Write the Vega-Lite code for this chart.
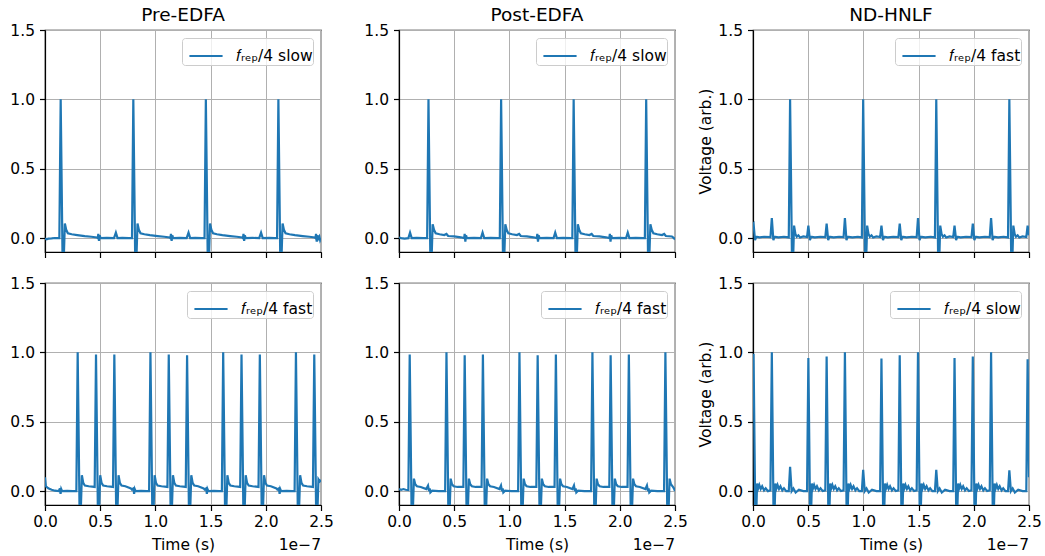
{
"$schema": "https://vega.github.io/schema/vega-lite/v6.json",
"padding": {"left": 9, "top": 4, "right": 5, "bottom": 3},
"config": {
  "font": "DejaVu Sans",
  "view": {"stroke": "black", "strokeWidth": 1.2},
  "axis": {"grid": true, "gridColor": "#b0b0b0", "gridWidth": 1, "domainColor": "black", "domainWidth": 1.2, "tickColor": "black", "tickWidth": 1.2, "tickSize": 5.5, "labelFontSize": 15.5, "labelColor": "black", "titleFontSize": 15.5, "titleFontWeight": "normal", "titleColor": "black", "labelFlush": false, "labelOverlap": false},
  "axisX": {"labelPadding": 4, "titlePadding": 7},
  "axisY": {"labelPadding": 5, "titlePadding": 4},
  "title": {"fontSize": 18.5, "fontWeight": "normal", "offset": -1, "color": "black", "anchor": "middle"},
  "legend": {"orient": "top-right", "offset": 8, "padding": 0, "fillColor": "rgba(255,255,255,0.8)", "strokeColor": "#cccccc", "cornerRadius": 3, "labelFontSize": 15.5, "labelColor": "black", "symbolType": "stroke", "symbolSize": 1100, "symbolStrokeWidth": 2.2, "symbolOffset": 6, "labelOffset": 12}
},
"datasets": {
"preSlow": [
{"t":0,"v":-0.003},{"t":0.015,"v":-0.008},{"t":0.03,"v":-0.004},{"t":0.06,"v":-0.002},{"t":0.09,"v":0.001},{"t":0.13,"v":0},
{"t":0.142,"v":1},{"t":0.162,"v":-0.35},{"t":0.18,"v":0.105},{"t":0.192,"v":0.06},{"t":0.207,"v":0.035},{"t":0.242,"v":0.028},{"t":0.292,"v":0.022},{"t":0.36,"v":0.015},{"t":0.42,"v":0.01},{"t":0.47,"v":0.005},
{"t":0.478,"v":0},{"t":0.483,"v":0.03},{"t":0.489,"v":-0.02},{"t":0.495,"v":0.02},{"t":0.503,"v":0},{"t":0.56,"v":0.002},{"t":0.625,"v":0},{"t":0.642,"v":0.04},{"t":0.657,"v":0},{"t":0.7,"v":0.002},{"t":0.76,"v":0},{"t":0.788,"v":0},
{"t":0.8,"v":1},{"t":0.82,"v":-0.35},{"t":0.838,"v":0.105},{"t":0.85,"v":0.06},{"t":0.865,"v":0.035},{"t":0.9,"v":0.028},{"t":0.95,"v":0.022},{"t":1.02,"v":0.015},{"t":1.08,"v":0.01},{"t":1.13,"v":0.005},
{"t":1.136,"v":0},{"t":1.141,"v":0.03},{"t":1.147,"v":-0.02},{"t":1.153,"v":0.02},{"t":1.161,"v":0},{"t":1.22,"v":0.002},{"t":1.283,"v":0},{"t":1.3,"v":0.04},{"t":1.315,"v":0},{"t":1.36,"v":0.002},{"t":1.42,"v":0},{"t":1.445,"v":0},
{"t":1.457,"v":1},{"t":1.477,"v":-0.35},{"t":1.495,"v":0.105},{"t":1.507,"v":0.06},{"t":1.522,"v":0.035},{"t":1.557,"v":0.028},{"t":1.607,"v":0.022},{"t":1.677,"v":0.015},{"t":1.737,"v":0.01},{"t":1.787,"v":0.005},
{"t":1.793,"v":0},{"t":1.798,"v":0.03},{"t":1.804,"v":-0.02},{"t":1.81,"v":0.02},{"t":1.818,"v":0},{"t":1.88,"v":0.002},{"t":1.94,"v":0},{"t":1.957,"v":0.04},{"t":1.972,"v":0},{"t":2.03,"v":0.002},{"t":2.08,"v":0},{"t":2.102,"v":0},
{"t":2.114,"v":1},{"t":2.134,"v":-0.35},{"t":2.152,"v":0.105},{"t":2.164,"v":0.06},{"t":2.179,"v":0.035},{"t":2.214,"v":0.028},{"t":2.264,"v":0.022},{"t":2.334,"v":0.015},{"t":2.394,"v":0.01},{"t":2.444,"v":0.005},
{"t":2.45,"v":0},{"t":2.455,"v":0.03},{"t":2.461,"v":-0.025},{"t":2.467,"v":0.02},{"t":2.475,"v":-0.005},{"t":2.485,"v":0.01},{"t":2.492,"v":-0.015},{"t":2.5,"v":0}
],
"postSlow": [
{"t":0,"v":0.005},{"t":0.02,"v":0},{"t":0.05,"v":-0.003},{"t":0.085,"v":0},{"t":0.1,"v":0.04},{"t":0.115,"v":0},{"t":0.16,"v":0.002},{"t":0.22,"v":0},{"t":0.255,"v":0},
{"t":0.267,"v":1},{"t":0.287,"v":-0.35},{"t":0.305,"v":0.1},{"t":0.317,"v":0.06},{"t":0.332,"v":0.035},{"t":0.367,"v":0.028},{"t":0.41,"v":0.022},{"t":0.43,"v":0.03},{"t":0.445,"v":0.015},{"t":0.5,"v":0.012},{"t":0.56,"v":0.006},{"t":0.59,"v":0},{"t":0.595,"v":0.03},{"t":0.601,"v":-0.025},{"t":0.607,"v":0.02},{"t":0.615,"v":0},{"t":0.68,"v":0.002},{"t":0.742,"v":0},{"t":0.757,"v":0.04},{"t":0.772,"v":0},{"t":0.83,"v":0.002},{"t":0.9,"v":0},{"t":0.913,"v":0},
{"t":0.925,"v":1},{"t":0.945,"v":-0.35},{"t":0.963,"v":0.1},{"t":0.975,"v":0.06},{"t":0.99,"v":0.035},{"t":1.025,"v":0.028},{"t":1.068,"v":0.022},{"t":1.088,"v":0.03},{"t":1.103,"v":0.015},{"t":1.158,"v":0.012},{"t":1.218,"v":0.006},{"t":1.248,"v":0},{"t":1.253,"v":0.03},{"t":1.259,"v":-0.025},{"t":1.265,"v":0.02},{"t":1.273,"v":0},{"t":1.338,"v":0.002},{"t":1.4,"v":0},{"t":1.415,"v":0.04},{"t":1.43,"v":0},{"t":1.488,"v":0.002},{"t":1.558,"v":0},{"t":1.57,"v":0},
{"t":1.582,"v":1},{"t":1.602,"v":-0.35},{"t":1.62,"v":0.1},{"t":1.632,"v":0.06},{"t":1.647,"v":0.035},{"t":1.682,"v":0.028},{"t":1.725,"v":0.022},{"t":1.745,"v":0.03},{"t":1.76,"v":0.015},{"t":1.815,"v":0.012},{"t":1.875,"v":0.006},{"t":1.905,"v":0},{"t":1.91,"v":0.03},{"t":1.916,"v":-0.025},{"t":1.922,"v":0.02},{"t":1.93,"v":0},{"t":1.995,"v":0.002},{"t":2.057,"v":0},{"t":2.072,"v":0.04},{"t":2.087,"v":0},{"t":2.145,"v":0.002},{"t":2.215,"v":0},{"t":2.227,"v":0},
{"t":2.239,"v":1},{"t":2.259,"v":-0.35},{"t":2.277,"v":0.1},{"t":2.289,"v":0.06},{"t":2.304,"v":0.035},{"t":2.339,"v":0.028},{"t":2.382,"v":0.022},{"t":2.402,"v":0.03},{"t":2.417,"v":0.015},{"t":2.472,"v":0.012},{"t":2.49,"v":0},{"t":2.5,"v":-0.01}
],
"ndFast": [
{"t":0,"v":0.1},{"t":0.005,"v":0.105},{"t":0.018,"v":-0.015},{"t":0.03,"v":0.01},{"t":0.06,"v":0.005},{"t":0.1,"v":0.01},{"t":0.1585,"v":0.008},
{"t":0.1705,"v":0.145},{"t":0.1845,"v":-0.015},{"t":0.1955,"v":0.01},{"t":0.23,"v":0.006},{"t":0.28,"v":0.01},{"t":0.324,"v":0.005},
{"t":0.336,"v":1},{"t":0.356,"v":-0.35},{"t":0.372,"v":0.09},{"t":0.384,"v":0.03},{"t":0.396,"v":0.01},{"t":0.411,"v":0.02},{"t":0.426,"v":0.005},{"t":0.456,"v":0.012},{"t":0.4895,"v":0.008},
{"t":0.5015,"v":0.09},{"t":0.5155,"v":-0.015},{"t":0.5265,"v":0.01},{"t":0.56,"v":0.005},{"t":0.61,"v":0.01},{"t":0.655,"v":0.008},
{"t":0.667,"v":0.105},{"t":0.681,"v":-0.015},{"t":0.692,"v":0.01},{"t":0.73,"v":0.005},{"t":0.78,"v":0.01},{"t":0.8205,"v":0.008},
{"t":0.8325,"v":0.145},{"t":0.8465,"v":-0.015},{"t":0.8575,"v":0.01},{"t":0.9,"v":0.006},{"t":0.95,"v":0.01},{"t":0.986,"v":0.005},
{"t":0.998,"v":1},{"t":1.018,"v":-0.35},{"t":1.034,"v":0.09},{"t":1.046,"v":0.03},{"t":1.058,"v":0.01},{"t":1.073,"v":0.02},{"t":1.088,"v":0.005},{"t":1.118,"v":0.012},{"t":1.1515,"v":0.008},
{"t":1.1635,"v":0.09},{"t":1.1775,"v":-0.015},{"t":1.1885,"v":0.01},{"t":1.22,"v":0.005},{"t":1.27,"v":0.01},{"t":1.317,"v":0.008},
{"t":1.329,"v":0.105},{"t":1.343,"v":-0.015},{"t":1.354,"v":0.01},{"t":1.39,"v":0.005},{"t":1.44,"v":0.01},{"t":1.4825,"v":0.008},
{"t":1.4945,"v":0.145},{"t":1.5085,"v":-0.015},{"t":1.5195,"v":0.01},{"t":1.56,"v":0.006},{"t":1.61,"v":0.01},{"t":1.648,"v":0.005},
{"t":1.66,"v":1},{"t":1.68,"v":-0.35},{"t":1.696,"v":0.09},{"t":1.708,"v":0.03},{"t":1.72,"v":0.01},{"t":1.735,"v":0.02},{"t":1.75,"v":0.005},{"t":1.78,"v":0.012},{"t":1.8135,"v":0.008},
{"t":1.8255,"v":0.09},{"t":1.8395,"v":-0.015},{"t":1.8505,"v":0.01},{"t":1.88,"v":0.005},{"t":1.93,"v":0.01},{"t":1.979,"v":0.008},
{"t":1.991,"v":0.105},{"t":2.005,"v":-0.015},{"t":2.016,"v":0.01},{"t":2.05,"v":0.005},{"t":2.1,"v":0.01},{"t":2.1445,"v":0.008},
{"t":2.1565,"v":0.145},{"t":2.1705,"v":-0.015},{"t":2.1815,"v":0.01},{"t":2.22,"v":0.006},{"t":2.27,"v":0.01},{"t":2.31,"v":0.005},
{"t":2.322,"v":1},{"t":2.342,"v":-0.35},{"t":2.358,"v":0.09},{"t":2.37,"v":0.03},{"t":2.382,"v":0.01},{"t":2.397,"v":0.02},{"t":2.412,"v":0.005},{"t":2.442,"v":0.012},{"t":2.4755,"v":0.008},
{"t":2.4875,"v":0.09},{"t":2.5,"v":0.02}
],
"preFast": [
{"t":0,"v":0.1},{"t":0.008,"v":0.035},{"t":0.03,"v":0.02},{"t":0.06,"v":0.01},{"t":0.09,"v":0.003},{"t":0.125,"v":0},{"t":0.135,"v":0.02},{"t":0.141,"v":-0.02},{"t":0.147,"v":0.015},{"t":0.155,"v":0},{"t":0.2,"v":0.002},{"t":0.25,"v":0},{"t":0.284,"v":0},
{"t":0.296,"v":1},{"t":0.316,"v":-0.35},{"t":0.334,"v":0.115},{"t":0.346,"v":0.06},{"t":0.361,"v":0.04},{"t":0.396,"v":0.035},{"t":0.45,"v":0.03},
{"t":0.462,"v":0.985},{"t":0.482,"v":-0.35},{"t":0.5,"v":0.115},{"t":0.512,"v":0.06},{"t":0.527,"v":0.04},{"t":0.562,"v":0.035},{"t":0.616,"v":0.03},
{"t":0.628,"v":0.985},{"t":0.648,"v":-0.35},{"t":0.666,"v":0.115},{"t":0.678,"v":0.06},{"t":0.693,"v":0.04},{"t":0.728,"v":0.035},{"t":0.778,"v":0.02},{"t":0.786,"v":0.012},{"t":0.801,"v":0.02},{"t":0.807,"v":-0.02},{"t":0.813,"v":0.015},{"t":0.821,"v":0},{"t":0.871,"v":0.002},{"t":0.921,"v":0},{"t":0.943,"v":0},
{"t":0.955,"v":1},{"t":0.975,"v":-0.35},{"t":0.993,"v":0.115},{"t":1.005,"v":0.06},{"t":1.02,"v":0.04},{"t":1.055,"v":0.035},{"t":1.109,"v":0.03},
{"t":1.121,"v":0.985},{"t":1.141,"v":-0.35},{"t":1.159,"v":0.115},{"t":1.171,"v":0.06},{"t":1.186,"v":0.04},{"t":1.221,"v":0.035},{"t":1.275,"v":0.03},
{"t":1.287,"v":0.98},{"t":1.307,"v":-0.35},{"t":1.325,"v":0.115},{"t":1.337,"v":0.06},{"t":1.352,"v":0.04},{"t":1.387,"v":0.035},{"t":1.437,"v":0.02},{"t":1.445,"v":0.012},{"t":1.46,"v":0.02},{"t":1.466,"v":-0.02},{"t":1.472,"v":0.015},{"t":1.48,"v":0},{"t":1.53,"v":0.002},{"t":1.58,"v":0},{"t":1.602,"v":0},
{"t":1.614,"v":1},{"t":1.634,"v":-0.35},{"t":1.652,"v":0.115},{"t":1.664,"v":0.06},{"t":1.679,"v":0.04},{"t":1.714,"v":0.035},{"t":1.768,"v":0.03},
{"t":1.78,"v":0.985},{"t":1.8,"v":-0.35},{"t":1.818,"v":0.115},{"t":1.83,"v":0.06},{"t":1.845,"v":0.04},{"t":1.88,"v":0.035},{"t":1.934,"v":0.03},
{"t":1.946,"v":0.985},{"t":1.966,"v":-0.35},{"t":1.984,"v":0.115},{"t":1.996,"v":0.06},{"t":2.011,"v":0.04},{"t":2.046,"v":0.035},{"t":2.096,"v":0.02},{"t":2.104,"v":0.012},{"t":2.119,"v":0.02},{"t":2.125,"v":-0.02},{"t":2.131,"v":0.015},{"t":2.139,"v":0},{"t":2.189,"v":0.002},{"t":2.239,"v":0},{"t":2.261,"v":0},
{"t":2.273,"v":1},{"t":2.293,"v":-0.35},{"t":2.311,"v":0.115},{"t":2.323,"v":0.06},{"t":2.338,"v":0.04},{"t":2.373,"v":0.035},{"t":2.427,"v":0.03},
{"t":2.439,"v":0.985},{"t":2.459,"v":-0.35},{"t":2.477,"v":0.085},{"t":2.489,"v":0.07},{"t":2.5,"v":0.08}
],
"postFast": [
{"t":0,"v":0.015},{"t":0.02,"v":0.01},{"t":0.04,"v":0.015},{"t":0.06,"v":0.01},{"t":0.085,"v":0.008},
{"t":0.097,"v":0.985},{"t":0.117,"v":-0.35},{"t":0.135,"v":0.09},{"t":0.147,"v":0.05},{"t":0.162,"v":0.035},{"t":0.197,"v":0.03},{"t":0.247,"v":0.015},{"t":0.263,"v":0.04},{"t":0.272,"v":0},{"t":0.278,"v":0.02},{"t":0.284,"v":-0.01},{"t":0.3,"v":0.003},{"t":0.36,"v":0},{"t":0.418,"v":0},
{"t":0.43,"v":1},{"t":0.45,"v":-0.35},{"t":0.468,"v":0.09},{"t":0.48,"v":0.05},{"t":0.495,"v":0.035},{"t":0.53,"v":0.03},{"t":0.583,"v":0.03},
{"t":0.595,"v":0.98},{"t":0.615,"v":-0.35},{"t":0.633,"v":0.09},{"t":0.645,"v":0.05},{"t":0.66,"v":0.035},{"t":0.695,"v":0.03},{"t":0.748,"v":0.03},
{"t":0.76,"v":0.985},{"t":0.78,"v":-0.35},{"t":0.798,"v":0.09},{"t":0.81,"v":0.05},{"t":0.825,"v":0.035},{"t":0.86,"v":0.03},{"t":0.91,"v":0.015},{"t":0.924,"v":0.04},{"t":0.933,"v":0},{"t":0.939,"v":0.02},{"t":0.945,"v":-0.01},{"t":0.961,"v":0.003},{"t":1.02,"v":0},{"t":1.079,"v":0},
{"t":1.091,"v":1},{"t":1.111,"v":-0.35},{"t":1.129,"v":0.09},{"t":1.141,"v":0.05},{"t":1.156,"v":0.035},{"t":1.191,"v":0.03},{"t":1.244,"v":0.03},
{"t":1.256,"v":0.98},{"t":1.276,"v":-0.35},{"t":1.294,"v":0.09},{"t":1.306,"v":0.05},{"t":1.321,"v":0.035},{"t":1.356,"v":0.03},{"t":1.409,"v":0.03},
{"t":1.421,"v":0.985},{"t":1.441,"v":-0.35},{"t":1.459,"v":0.09},{"t":1.471,"v":0.05},{"t":1.486,"v":0.035},{"t":1.521,"v":0.03},{"t":1.571,"v":0.015},{"t":1.585,"v":0.04},{"t":1.594,"v":0},{"t":1.6,"v":0.02},{"t":1.606,"v":-0.01},{"t":1.622,"v":0.003},{"t":1.68,"v":0},{"t":1.74,"v":0},
{"t":1.752,"v":1},{"t":1.772,"v":-0.35},{"t":1.79,"v":0.09},{"t":1.802,"v":0.05},{"t":1.817,"v":0.035},{"t":1.852,"v":0.03},{"t":1.905,"v":0.03},
{"t":1.917,"v":0.98},{"t":1.937,"v":-0.35},{"t":1.955,"v":0.09},{"t":1.967,"v":0.05},{"t":1.982,"v":0.035},{"t":2.017,"v":0.03},{"t":2.07,"v":0.03},
{"t":2.082,"v":0.985},{"t":2.102,"v":-0.35},{"t":2.12,"v":0.09},{"t":2.132,"v":0.05},{"t":2.147,"v":0.035},{"t":2.182,"v":0.03},{"t":2.232,"v":0.015},{"t":2.246,"v":0.04},{"t":2.255,"v":0},{"t":2.261,"v":0.02},{"t":2.267,"v":-0.01},{"t":2.283,"v":0.003},{"t":2.34,"v":0},{"t":2.401,"v":0},
{"t":2.413,"v":1},{"t":2.433,"v":-0.35},{"t":2.451,"v":0.09},{"t":2.463,"v":0.05},{"t":2.478,"v":0.035},{"t":2.49,"v":0.02},{"t":2.5,"v":0}
],
"ndSlow": [
{"t":0,"v":0.75},{"t":0.005,"v":0.99},{"t":0.023,"v":-0.35},{"t":0.037,"v":0.055},{"t":0.047,"v":0.02},{"t":0.057,"v":0.045},{"t":0.07,"v":0.015},{"t":0.083,"v":0.035},{"t":0.1,"v":0.005},{"t":0.115,"v":0.02},{"t":0.135,"v":0},{"t":0.158,"v":0.005},
{"t":0.1705,"v":1},{"t":0.1885,"v":-0.35},{"t":0.2025,"v":0.055},{"t":0.2125,"v":0.02},{"t":0.2225,"v":0.045},{"t":0.2355,"v":0.015},{"t":0.2485,"v":0.035},{"t":0.2655,"v":0.005},{"t":0.2805,"v":0.02},{"t":0.3005,"v":0},{"t":0.324,"v":0},
{"t":0.336,"v":0.175},{"t":0.35,"v":0},{"t":0.366,"v":0.02},{"t":0.386,"v":-0.01},{"t":0.416,"v":0.01},{"t":0.456,"v":0},{"t":0.4895,"v":0},
{"t":0.5015,"v":0.96},{"t":0.5195,"v":-0.35},{"t":0.5335,"v":0.055},{"t":0.5435,"v":0.02},{"t":0.5535,"v":0.045},{"t":0.5665,"v":0.015},{"t":0.5795,"v":0.035},{"t":0.5965,"v":0.005},{"t":0.6115,"v":0.02},{"t":0.6315,"v":0},{"t":0.655,"v":0.005},
{"t":0.667,"v":0.97},{"t":0.685,"v":-0.35},{"t":0.699,"v":0.055},{"t":0.709,"v":0.02},{"t":0.719,"v":0.045},{"t":0.732,"v":0.015},{"t":0.745,"v":0.035},{"t":0.762,"v":0.005},{"t":0.777,"v":0.02},{"t":0.797,"v":0},{"t":0.8205,"v":0.005},
{"t":0.8325,"v":1},{"t":0.8505,"v":-0.35},{"t":0.8645,"v":0.055},{"t":0.8745,"v":0.02},{"t":0.8845,"v":0.045},{"t":0.8975,"v":0.015},{"t":0.9105,"v":0.035},{"t":0.9275,"v":0.005},{"t":0.9425,"v":0.02},{"t":0.9625,"v":0},{"t":0.986,"v":0},
{"t":0.998,"v":0.153},{"t":1.012,"v":0},{"t":1.028,"v":0.02},{"t":1.048,"v":-0.01},{"t":1.078,"v":0.01},{"t":1.118,"v":0},{"t":1.1515,"v":0},
{"t":1.1635,"v":0.955},{"t":1.1815,"v":-0.35},{"t":1.1955,"v":0.055},{"t":1.2055,"v":0.02},{"t":1.2155,"v":0.045},{"t":1.2285,"v":0.015},{"t":1.2415,"v":0.035},{"t":1.2585,"v":0.005},{"t":1.2735,"v":0.02},{"t":1.2935,"v":0},{"t":1.317,"v":0.005},
{"t":1.329,"v":0.98},{"t":1.347,"v":-0.35},{"t":1.361,"v":0.055},{"t":1.371,"v":0.02},{"t":1.381,"v":0.045},{"t":1.394,"v":0.015},{"t":1.407,"v":0.035},{"t":1.424,"v":0.005},{"t":1.439,"v":0.02},{"t":1.459,"v":0},{"t":1.4825,"v":0.005},
{"t":1.4945,"v":1},{"t":1.5125,"v":-0.35},{"t":1.5265,"v":0.055},{"t":1.5365,"v":0.02},{"t":1.5465,"v":0.045},{"t":1.5595,"v":0.015},{"t":1.5725,"v":0.035},{"t":1.5895,"v":0.005},{"t":1.6045,"v":0.02},{"t":1.6245,"v":0},{"t":1.648,"v":0},
{"t":1.66,"v":0.153},{"t":1.674,"v":0},{"t":1.69,"v":0.02},{"t":1.71,"v":-0.01},{"t":1.74,"v":0.01},{"t":1.78,"v":0},{"t":1.8135,"v":0},
{"t":1.8255,"v":0.96},{"t":1.8435,"v":-0.35},{"t":1.8575,"v":0.055},{"t":1.8675,"v":0.02},{"t":1.8775,"v":0.045},{"t":1.8905,"v":0.015},{"t":1.9035,"v":0.035},{"t":1.9205,"v":0.005},{"t":1.9355,"v":0.02},{"t":1.9555,"v":0},{"t":1.979,"v":0.005},
{"t":1.991,"v":0.97},{"t":2.009,"v":-0.35},{"t":2.023,"v":0.055},{"t":2.033,"v":0.02},{"t":2.043,"v":0.045},{"t":2.056,"v":0.015},{"t":2.069,"v":0.035},{"t":2.086,"v":0.005},{"t":2.101,"v":0.02},{"t":2.121,"v":0},{"t":2.1445,"v":0.005},
{"t":2.1565,"v":1},{"t":2.1745,"v":-0.35},{"t":2.1885,"v":0.055},{"t":2.1985,"v":0.02},{"t":2.2085,"v":0.045},{"t":2.2215,"v":0.015},{"t":2.2345,"v":0.035},{"t":2.2515,"v":0.005},{"t":2.2665,"v":0.02},{"t":2.2865,"v":0},{"t":2.31,"v":0},
{"t":2.322,"v":0.15},{"t":2.336,"v":0},{"t":2.352,"v":0.02},{"t":2.372,"v":-0.01},{"t":2.402,"v":0.01},{"t":2.442,"v":0},{"t":2.4755,"v":0},
{"t":2.4875,"v":0.95},{"t":2.5,"v":0.1}
]
},
"resolve": {"scale": {"color": "independent"}, "legend": {"color": "independent"}},
"columns": 3,
"spacing": {"row": 31, "column": 78},
"bounds": "flush",
"concat": [
{
 "title": "Pre-EDFA", "width": 276, "height": 222,
 "data": {"name": "preSlow"},
 "mark": {"type": "line", "clip": true, "strokeWidth": 2.2},
 "encoding": {
  "x": {"field": "t", "type": "quantitative", "scale": {"domain": [0, 2.5], "nice": false}, "axis": {"values": [0, 0.5, 1, 1.5, 2, 2.5], "labels": false, "title": null}},
  "y": {"field": "v", "type": "quantitative", "scale": {"domain": [-0.1, 1.5], "nice": false, "zero": false}, "axis": {"values": [0, 0.5, 1, 1.5], "format": ".1f", "title": null}},
  "color": {"datum": "𝑓ᵣₑₚ/4 slow ", "type": "nominal", "scale": {"range": ["#1f77b4"]}, "legend": {"title": null}}
 }
},
{
 "title": "Post-EDFA", "width": 276, "height": 222,
 "data": {"name": "postSlow"},
 "mark": {"type": "line", "clip": true, "strokeWidth": 2.2},
 "encoding": {
  "x": {"field": "t", "type": "quantitative", "scale": {"domain": [0, 2.5], "nice": false}, "axis": {"values": [0, 0.5, 1, 1.5, 2, 2.5], "labels": false, "title": null}},
  "y": {"field": "v", "type": "quantitative", "scale": {"domain": [-0.1, 1.5], "nice": false, "zero": false}, "axis": {"values": [0, 0.5, 1, 1.5], "format": ".1f", "title": null}},
  "color": {"datum": "𝑓ᵣₑₚ/4 slow ", "type": "nominal", "scale": {"range": ["#1f77b4"]}, "legend": {"title": null}}
 }
},
{
 "title": "ND-HNLF", "width": 276, "height": 222,
 "data": {"name": "ndFast"},
 "mark": {"type": "line", "clip": true, "strokeWidth": 2.2},
 "encoding": {
  "x": {"field": "t", "type": "quantitative", "scale": {"domain": [0, 2.5], "nice": false}, "axis": {"values": [0, 0.5, 1, 1.5, 2, 2.5], "labels": false, "title": null}},
  "y": {"field": "v", "type": "quantitative", "scale": {"domain": [-0.1, 1.5], "nice": false, "zero": false}, "axis": {"values": [0, 0.5, 1, 1.5], "format": ".1f", "title": "Voltage (arb.)"}},
  "color": {"datum": "𝑓ᵣₑₚ/4 fast ", "type": "nominal", "scale": {"range": ["#1f77b4"]}, "legend": {"title": null}}
 }
},
{
 "width": 276, "height": 222,
 "layer": [
  {
   "data": {"name": "preFast"},
   "mark": {"type": "line", "clip": true, "strokeWidth": 2.2},
   "encoding": {
    "x": {"field": "t", "type": "quantitative", "scale": {"domain": [0, 2.5], "nice": false}, "axis": {"values": [0, 0.5, 1, 1.5, 2, 2.5], "format": ".1f", "title": "Time (s)"}},
    "y": {"field": "v", "type": "quantitative", "scale": {"domain": [-0.1, 1.5], "nice": false, "zero": false}, "axis": {"values": [0, 0.5, 1, 1.5], "format": ".1f", "title": null}},
    "color": {"datum": "𝑓ᵣₑₚ/4 fast ", "type": "nominal", "scale": {"range": ["#1f77b4"]}, "legend": {"title": null}}
   }
  },
  {
   "data": {"values": [{}]},
   "mark": {"type": "text", "text": "1e−7", "align": "right", "baseline": "top", "dy": 33, "fontSize": 15.5, "color": "black"},
   "encoding": {"x": {"datum": 2.5, "type": "quantitative", "axis": {"title": "Time (s)"}}, "y": {"datum": -0.1, "type": "quantitative", "axis": {"title": null}}}
  }
 ]
},
{
 "width": 276, "height": 222,
 "layer": [
  {
   "data": {"name": "postFast"},
   "mark": {"type": "line", "clip": true, "strokeWidth": 2.2},
   "encoding": {
    "x": {"field": "t", "type": "quantitative", "scale": {"domain": [0, 2.5], "nice": false}, "axis": {"values": [0, 0.5, 1, 1.5, 2, 2.5], "format": ".1f", "title": "Time (s)"}},
    "y": {"field": "v", "type": "quantitative", "scale": {"domain": [-0.1, 1.5], "nice": false, "zero": false}, "axis": {"values": [0, 0.5, 1, 1.5], "format": ".1f", "title": null}},
    "color": {"datum": "𝑓ᵣₑₚ/4 fast ", "type": "nominal", "scale": {"range": ["#1f77b4"]}, "legend": {"title": null}}
   }
  },
  {
   "data": {"values": [{}]},
   "mark": {"type": "text", "text": "1e−7", "align": "right", "baseline": "top", "dy": 33, "fontSize": 15.5, "color": "black"},
   "encoding": {"x": {"datum": 2.5, "type": "quantitative", "axis": {"title": "Time (s)"}}, "y": {"datum": -0.1, "type": "quantitative", "axis": {"title": null}}}
  }
 ]
},
{
 "width": 276, "height": 222,
 "layer": [
  {
   "data": {"name": "ndSlow"},
   "mark": {"type": "line", "clip": true, "strokeWidth": 2.2},
   "encoding": {
    "x": {"field": "t", "type": "quantitative", "scale": {"domain": [0, 2.5], "nice": false}, "axis": {"values": [0, 0.5, 1, 1.5, 2, 2.5], "format": ".1f", "title": "Time (s)"}},
    "y": {"field": "v", "type": "quantitative", "scale": {"domain": [-0.1, 1.5], "nice": false, "zero": false}, "axis": {"values": [0, 0.5, 1, 1.5], "format": ".1f", "title": "Voltage (arb.)"}},
    "color": {"datum": "𝑓ᵣₑₚ/4 slow ", "type": "nominal", "scale": {"range": ["#1f77b4"]}, "legend": {"title": null}}
   }
  },
  {
   "data": {"values": [{}]},
   "mark": {"type": "text", "text": "1e−7", "align": "right", "baseline": "top", "dy": 33, "fontSize": 15.5, "color": "black"},
   "encoding": {"x": {"datum": 2.5, "type": "quantitative", "axis": {"title": "Time (s)"}}, "y": {"datum": -0.1, "type": "quantitative", "axis": {"title": "Voltage (arb.)"}}}
  }
 ]
}
]
}
